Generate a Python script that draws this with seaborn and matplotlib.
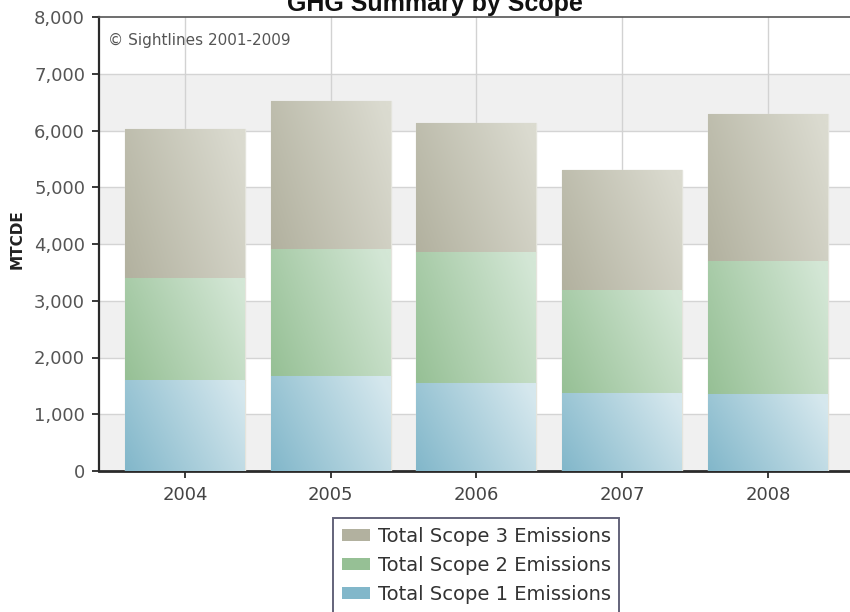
import numpy as np
import pandas as pd
import matplotlib
matplotlib.use("Agg")
import matplotlib.pyplot as plt
from matplotlib.colors import to_rgb
import seaborn as sns

# Emissions by year (MTCDE)
years = ["2004", "2005", "2006", "2007", "2008"]
scope1 = [1605, 1680, 1545, 1370, 1355]
scope2 = [1800, 2230, 2310, 1820, 2345]
scope3 = [2615, 2615, 2285, 2110, 2585]
series_names = ["Total Scope 1 Emissions", "Total Scope 2 Emissions",
                "Total Scope 3 Emissions"]
yticks = [0, 1000, 2000, 3000, 4000, 5000, 6000, 7000, 8000]

# (dark, light) ends of each series' shading
shades = {
    "Total Scope 1 Emissions": ("#82b7ca", "#d6e8ee"),
    "Total Scope 2 Emissions": ("#96c095", "#d4e7d6"),
    "Total Scope 3 Emissions": ("#b2b19f", "#dbdbd0"),
}

sns.set_theme(style="white")
plt.rcParams["font.family"] = ["DejaVu Sans"]

fig = plt.figure(figsize=(8.5, 6.12), dpi=100)
ax = fig.add_axes([99 / 850, 1 - 471 / 612, 751 / 850, 454 / 612])

df = pd.DataFrame({"year": years, "s1": scope1, "s2": scope2, "s3": scope3})
bottoms = {
    "Total Scope 1 Emissions": np.zeros(len(years)),
    "Total Scope 2 Emissions": np.array(scope1, float),
    "Total Scope 3 Emissions": np.array(scope1, float) + np.array(scope2, float),
}
cols = {"Total Scope 1 Emissions": "s1", "Total Scope 2 Emissions": "s2",
        "Total Scope 3 Emissions": "s3"}

patch_series = []
for name in series_names:
    n_before = len(ax.patches)
    sns.barplot(data=df, x="year", y=cols[name], ax=ax, width=0.823,
                color=shades[name][0], bottom=bottoms[name],
                edgecolor="#e4e4dc", linewidth=1.0, zorder=3)
    patch_series += [name] * (len(ax.patches) - n_before)

# diagonal shading inside each bar segment: darker bottom-left, lighter top-right
gx, gy = np.meshgrid(np.linspace(0, 1, 64), np.linspace(0, 1, 64))
w = np.clip(0.75 * gx + 0.3 * gy, 0, 1)[..., None]
for patch, name in zip(ax.patches, patch_series):
    dark = np.array(to_rgb(shades[name][0]))
    light = np.array(to_rgb(shades[name][1]))
    img = dark * (1 - w) + light * w
    x0, y0 = patch.get_x(), patch.get_y()
    x1, y1 = x0 + patch.get_width(), y0 + patch.get_height()
    im = ax.imshow(img, extent=(x0, x1, y0, y1), origin="lower",
                   aspect="auto", interpolation="bicubic", zorder=3.5)
    im.set_clip_path(patch)

ax.set_xlim(-0.59, 4.563)
ax.set_ylim(0, 8000)
ax.set_yticks(yticks)
ax.set_yticklabels([f"{v:,}" for v in yticks])

# alternating bands and grid
for lo, hi in zip(yticks[:-1], yticks[1:]):
    if (lo // 1000) % 2 == 0:
        ax.axhspan(lo, hi, color="#f0f0f0", zorder=0, lw=0)
for v in yticks[1:-1]:
    ax.axhline(v, color="#d4d4d4", lw=1.0, zorder=1)
for i in range(len(years)):
    ax.axvline(i, color="#d2d2d2", lw=1.0, zorder=1)

for side in ["left", "bottom", "top"]:
    ax.spines[side].set_visible(True)
    ax.spines[side].set_color("#2a2a2a")
ax.spines["left"].set_linewidth(1.6)
ax.spines["bottom"].set_linewidth(2.0)
ax.spines["top"].set_linewidth(1.2)
ax.spines["top"].set_color("#555555")
ax.spines["right"].set_visible(False)

ax.tick_params(axis="y", which="major", left=True, length=5, width=1.3,
               color="#2a2a2a", labelsize=13, labelcolor="#555555", pad=5)
ax.tick_params(axis="x", which="major", bottom=True, length=5, width=1.3,
               color="#2a2a2a", labelsize=13, labelcolor="#444444", pad=6)

ax.set_xlabel("")
ax.set_ylabel("")
fig.text(17 / 850, 1 - 239 / 612, "MTCDE", rotation=90, ha="center",
         va="center", fontsize=11, fontweight="bold", color="#222222")

ax.text(0.012, 0.965, "\u00a9 Sightlines 2001-2009", transform=ax.transAxes,
        ha="left", va="top", fontsize=11, color="#555555", zorder=6)

fig.text(435 / 850, 1 - 11 / 612, "GHG Summary by Scope", ha="center",
         va="baseline", fontsize=18, fontweight="bold", color="#111111",
         family=["Liberation Sans", "DejaVu Sans"])

# legend, top to bottom: scope 3, 2, 1
handles = [plt.Rectangle((0, 0), 1, 1, facecolor=shades[n][0],
                         edgecolor="none") for n in series_names[::-1]]
leg = fig.legend(handles, series_names[::-1], loc="upper left",
                 bbox_to_anchor=(333 / 850, 1 - 518 / 612),
                 fontsize=14, frameon=True, fancybox=False,
                 handlelength=1.45, handleheight=0.6, handletextpad=0.4,
                 labelspacing=0.52, borderpad=0.45, borderaxespad=0)
leg.get_frame().set_edgecolor("#3c3c58")
leg.get_frame().set_linewidth(1.4)
for t in leg.get_texts():
    t.set_color("#333333")

fig.savefig("out.png", dpi=100)
